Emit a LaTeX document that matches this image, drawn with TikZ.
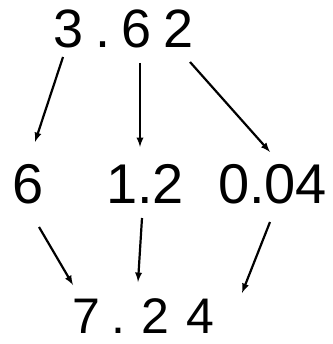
\documentclass[tikz,border=0pt]{standalone}
\usepackage{fontspec}
\setmainfont{Liberation Sans}
\usetikzlibrary{arrows}

\begin{document}
\begin{tikzpicture}[x=1pt,y=-1pt,
    num/.style={anchor=base,inner sep=0pt,font=\fontsize{54}{60}\selectfont},
    arr/.style={-latex,line width=2.2pt}]
    \useasboundingbox (0,0) rectangle (332,344);

    % 第一行 3 . 6 2
    \node[num] (top3) at (69,48) {3};
    \node[num] (topdot) at (103,48) {.};
    \node[num] (top6) at (136.5,48) {6};
    \node[num] (top2) at (179,48) {2};

    % 第二行 6  1.2  0.04
    \node[num,font=\fontsize{56}{60}\selectfont] (six) at (28.5,203) {6};
    \node[num,font=\fontsize{56}{60}\selectfont] (onetwo) at (145,203) {1.2};
    \node[num,font=\fontsize{56}{60}\selectfont] (ofour) at (272.5,203) {0.04};

    % 第三行 7 . 2 4
    \node[num,font=\fontsize{50}{56}\selectfont] (bot7) at (86,333) {7};
    \node[num,font=\fontsize{50}{56}\selectfont] (botdot) at (118,333) {.};
    \node[num,font=\fontsize{50}{56}\selectfont] (bot2) at (155,333) {2};
    \node[num,font=\fontsize{50}{56}\selectfont] (bot4) at (200,333) {4};

    % 箭头端点
    \coordinate (A) at (63,57);
    \coordinate (B) at (35,142);
    \coordinate (C) at (140,63);
    \coordinate (D) at (140,147);
    \coordinate (E) at (190,62);
    \coordinate (F) at (270,152);
    \coordinate (G) at (39,227);
    \coordinate (H) at (73,285);
    \coordinate (I) at (142,218);
    \coordinate (J) at (138,282);
    \coordinate (K) at (270,222);
    \coordinate (L) at (242,293);

    % 使用变量连线
    \draw[arr] (A) -- (B);
    \draw[arr] (C) -- (D);
    \draw[arr] (E) -- (F);
    \draw[arr] (G) -- (H);
    \draw[arr] (I) -- (J);
    \draw[arr] (K) -- (L);

\end{tikzpicture}
\end{document}
